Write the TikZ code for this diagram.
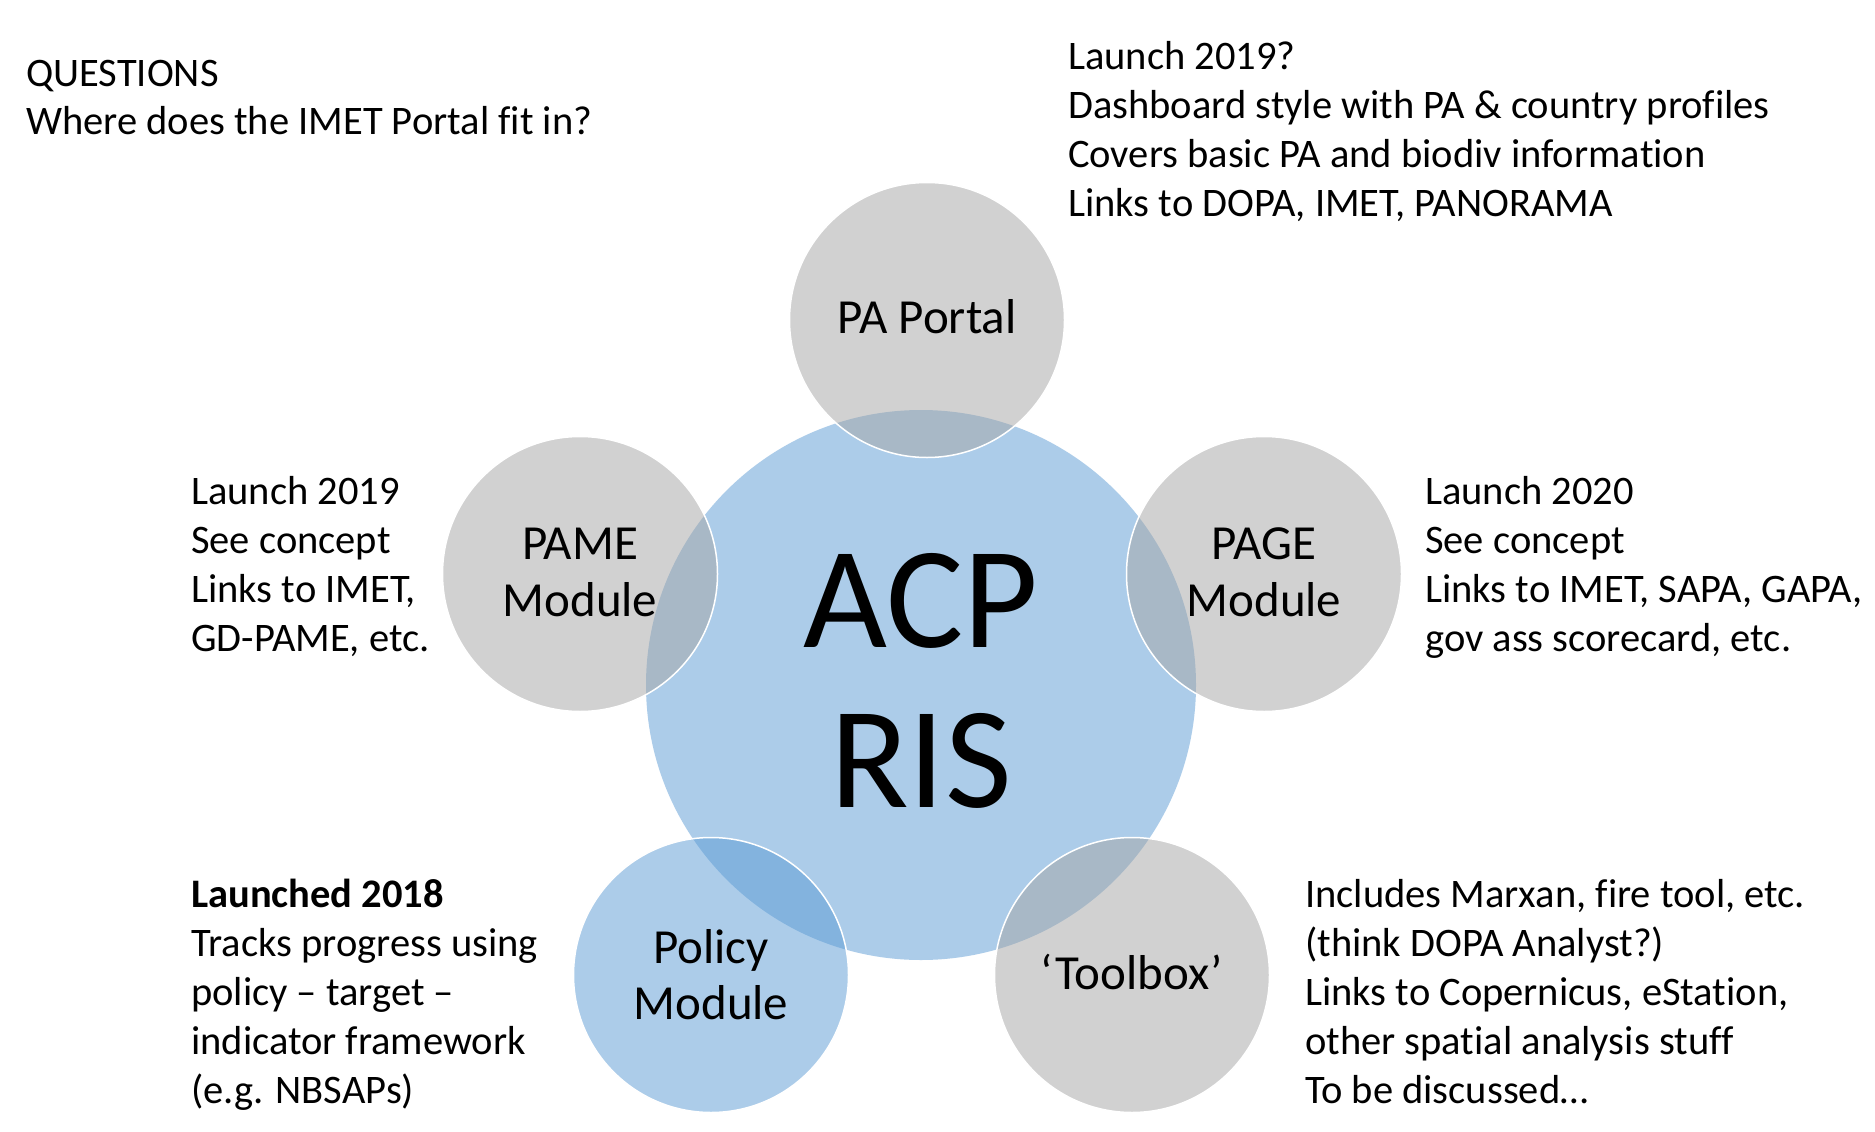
\documentclass[tikz,border=0pt]{standalone}
\usepackage{fontspec}
\setmainfont{Carlito}[RawFeature={-liga;-clig;-calt;-dlig}]
\definecolor{accblue}{HTML}{5B9BD5}
\definecolor{accgrey}{HTML}{A5A5A5}
\begin{document}
\begin{tikzpicture}[x=1pt,y=-1pt,
  hub/.style={circle, fill=accblue, fill opacity=0.5, minimum size=550pt, inner sep=0pt, outer sep=0pt},
  greymod/.style={circle, fill=accgrey, fill opacity=0.5, draw=white, draw opacity=1, line width=1.5pt, minimum size=275pt, inner sep=0pt},
  bluemod/.style={greymod, fill=accblue},
  note/.style={anchor=base west, inner sep=0pt, font=\fontsize{40.5}{49}\selectfont},
  lbl/.style={anchor=base, inner sep=0pt, font=\fontsize{49}{54}\selectfont},
  big/.style={anchor=base, inner sep=0pt, font=\fontsize{145}{160}\selectfont}]
\useasboundingbox (0,0) rectangle (1875,1132);
\fill[white] (0,0) rectangle (1875,1132);
% circles
\node[hub] (hub) at (921,685) {};
\node[greymod] (pa) at (927,320) {};
\node[greymod] (pame) at (580,574) {};
\node[greymod] (page) at (1264,574) {};
\node[bluemod] (policy) at (711,975) {};
\node[greymod] (tool) at (1132,975) {};
% circle labels
\node[big] (acp) at (921,647) {ACP};
\node[big] (ris) at (921,807) {RIS};
\node[lbl] (palbl) at (927,333) {PA Portal};
\node[lbl] (pamel1) at (580,559) {PAME};
\node[lbl] (pamel2) at (580,616) {Module};
\node[lbl] (pagel1) at (1264,559) {PAGE};
\node[lbl] (pagel2) at (1264,616) {Module};
\node[lbl] (poll1) at (711,963) {Policy};
\node[lbl] (poll2) at (711,1019) {Module};
\node[lbl] (toollbl) at (1132,989) {‘Toolbox’};
% notes
\node[note] (questions) at (26,86) {\begin{tabular}[t]{@{}l@{}}QUESTIONS\\Where does the IMET Portal fit in?\end{tabular}};
\node[note] (panote) at (1068,70) {\begin{tabular}[t]{@{}l@{}}Launch 2019?\\Dashboard style with PA \& country profiles\\Covers basic PA and biodiv informa\kern0pt tion\\Links to DOPA, IMET, PANORAMA\end{tabular}};
\node[note] (pamenote) at (191,504) {\begin{tabular}[t]{@{}l@{}}Launch 2019\\See concept\\Links to IMET,\\GD-PAME, etc.\end{tabular}};
\node[note] (pagenote) at (1425,504) {\begin{tabular}[t]{@{}l@{}}Launch 2020\\See concept\\Links to IMET, SAPA, GAPA,\\gov ass scorecard, etc.\end{tabular}};
\node[note] (polnote) at (191,907) {\begin{tabular}[t]{@{}l@{}}\textbf{Launched 2018}\\Tracks progress using\\policy – target –\\indicator framework\\(e.g. NBSAPs)\end{tabular}};
\node[note] (toolnote) at (1305,907) {\begin{tabular}[t]{@{}l@{}}Includes Marxan, fire tool, etc.\\(think DOPA Analyst?)\\Links to Copernicus, eStation,\\other spatial analysis stuff\\To be discussed…\end{tabular}};
\end{tikzpicture}
\end{document}
